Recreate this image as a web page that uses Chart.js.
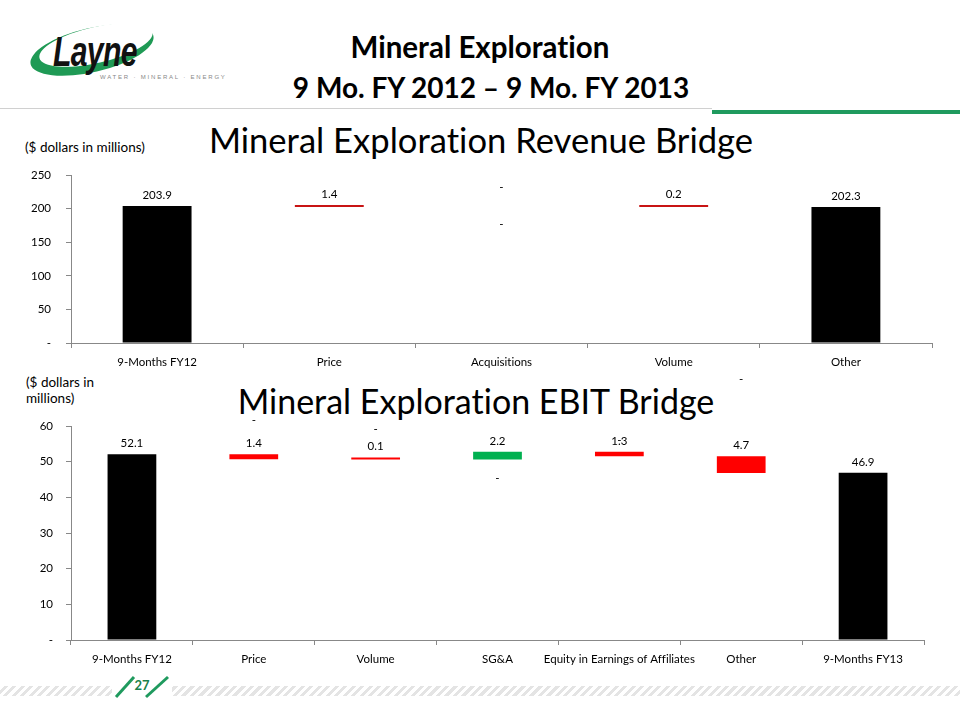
<!DOCTYPE html>
<html>
<head>
<meta charset="utf-8">
<script src="https://cdn.jsdelivr.net/npm/chart.js@4.4.1/dist/chart.umd.min.js"></script>
<style>
body{margin:0;width:960px;height:720px;position:relative;background:#fff;overflow:hidden;font-family:Lato,'Open Sans',sans-serif;font-variant-ligatures:none}
.abs{position:absolute}
.head{font-weight:bold;font-size:28px;color:#000;white-space:nowrap}
.ctitle{font-size:34px;color:#000;white-space:nowrap}
.unit{font-size:13.5px;color:#000;line-height:16px}
</style>
</head>
<body>
<svg class="abs" style="left:0;top:0" width="240" height="100">
  <g transform="rotate(-13 92 50)">
    <ellipse cx="92" cy="50" rx="63" ry="22" fill="#1f9a55"/>
    <ellipse cx="97" cy="46" rx="58" ry="18" fill="#fff"/>
  </g>
  <g transform="translate(53 66) scale(0.72 1)">
    <text x="0" y="0" font-family="Liberation Sans" font-weight="bold" font-style="italic" font-size="42" fill="#111" letter-spacing="-1">Layne</text>
  </g>
  <text x="100" y="79" font-family="Liberation Sans" font-size="6" fill="#888" letter-spacing="1.8">WATER · MINERAL · ENERGY</text>
</svg>
<div class="abs head" style="left:0;width:960px;text-align:center;top:29px;font-size:29.5px">Mineral Exploration</div>
<div class="abs head" style="left:0;width:982px;text-align:center;top:70px">9 Mo. FY 2012 – 9 Mo. FY 2013</div>
<div class="abs" style="left:0;top:108px;width:712px;height:1px;background:#d0d0d0"></div>
<div class="abs" style="left:712px;top:110px;width:248px;height:4px;background:#1f9a5e"></div>

<div class="abs unit" style="left:25px;top:139px">($ dollars in millions)</div>
<div class="abs ctitle" style="left:0;width:962px;text-align:center;top:119px;font-size:34.6px">Mineral Exploration Revenue Bridge</div>
<div class="abs unit" style="left:26px;top:374px">($ dollars in<br>millions)</div>
<div class="abs ctitle" style="left:0;width:952px;text-align:center;top:380px">Mineral Exploration EBIT Bridge</div>

<canvas id="rev" class="abs" style="left:0;top:165px" width="945" height="207"></canvas>
<canvas id="ebit" class="abs" style="left:0;top:370px" width="937" height="299"></canvas>

<div class="abs" style="left:0;top:686px;width:960px;height:10px;background:repeating-linear-gradient(135deg,#fff 0 3px,#e4e4e4 3px 6px)"></div>
<svg class="abs" style="left:0;top:670px" width="200" height="40">
  <rect x="112" y="4" width="60" height="24" fill="#fff"/>
  <line x1="116" y1="27" x2="134" y2="7" stroke="#1f9a5e" stroke-width="3"/>
  <line x1="146" y1="27" x2="168" y2="7" stroke="#1f9a5e" stroke-width="3"/>
  <text x="142" y="20" text-anchor="middle" font-family="Lato" font-weight="bold" font-size="13" fill="#1a7f4a">27</text>
</svg>

<script>
// revenue bridge
const revLabels = ['9-Months FY12', 'Price', 'Acquisitions', 'Volume', 'Other'];
const revValues = [203.9, -1.4, 0, -0.2, 202.3];
const revIsTotal = [true, false, false, false, true];
const revTicks = [0, 50, 100, 150, 200, 250];
const revDashes = [[2, 232], [2, 177]];   // stray zero labels

// EBIT bridge
const ebitLabels = ['9-Months FY12', 'Price', 'Volume', 'SG&A', 'Equity in Earnings of Affiliates', 'Other', '9-Months FY13'];
const ebitValues = [52.1, -1.4, -0.1, 2.2, -1.3, -4.7, 46.9];
const ebitIsTotal = [true, false, false, false, false, false, true];
const ebitTicks = [0, 10, 20, 30, 40, 50, 60];
const ebitDashes = [[1, 61.6], [2, 59.1], [3, 45.4], [4, 56], [5, 73.1]];

const FONT = 'Lato, "Open Sans", sans-serif';

function bridge(values, isTotal){
  let run = 0;
  return values.map((v, i) => {
    if (isTotal[i]) { run = v; return [0, v]; }
    if (v === 0) return null;
    const r = [run, run + v];
    run += v;
    return r;
  });
}

const bridgeLabels = {
  id: 'bridgeLabels',
  afterDatasetsDraw(chart, args, opts){
    const {ctx, scales:{x, y}} = chart;
    const meta = chart.getDatasetMeta(0);
    ctx.save();
    ctx.font = '11.5px ' + FONT;
    ctx.fillStyle = '#000';
    ctx.textAlign = 'center';
    ctx.textBaseline = 'bottom';
    opts.values.forEach((v, i) => {
      if (v === 0) return;
      const bar = meta.data[i];
      const top = Math.min(bar.y, bar.base);
      ctx.fillText(Math.abs(v).toFixed(1), bar.x, top - 5);
    });
    ctx.textBaseline = 'middle';
    opts.dashes.forEach(([i, v]) => ctx.fillText('-', x.getPixelForValue(i), y.getPixelForValue(v)));
    ctx.restore();
  }
};

function makeChart(id, labels, values, isTotal, ticks, dashes, padTop, padRight, yPad, negColor){
  const colors = values.map((v, i) => isTotal[i] ? '#000' : (v < 0 ? negColor : '#00b050'));
  return new Chart(document.getElementById(id), {
    type: 'bar',
    data: {labels, datasets: [{
      data: bridge(values, isTotal),
      backgroundColor: colors,
      borderWidth: 0,
      minBarLength: 2,
      categoryPercentage: 1,
      barPercentage: 0.4
    }]},
    options: {
      responsive: false,
      animation: false,
      layout: {padding: {top: padTop, right: padRight, left: 0, bottom: 0}},
      plugins: {legend: {display: false}, tooltip: {enabled: false},
        bridgeLabels: {values, dashes}},
      scales: {
        x: {
          grid: {drawOnChartArea: false, color: '#888', tickLength: 5, offset: true},
          border: {color: '#888'},
          ticks: {color: '#000', font: {family: FONT, size: 11.5}, padding: 7, maxRotation: 0, autoSkip: false},
          afterFit: s => { s.height = 29; }
        },
        y: {
          min: ticks[0], max: ticks[ticks.length - 1],
          afterBuildTicks: s => { s.ticks = ticks.map(v => ({value: v})); },
          grid: {drawOnChartArea: false, color: '#888', tickLength: 5},
          border: {color: '#888'},
          ticks: {color: '#000', font: {family: FONT, size: 11.5}, padding: yPad,
            callback: v => v === 0 ? '-' : v},
          afterFit: s => { s.width = 71; s.paddingTop = 6; s.paddingBottom = 6; }
        }
      }
    },
    plugins: [bridgeLabels]
  });
}

makeChart('rev', revLabels, revValues, revIsTotal, revTicks, revDashes, 10, 13, 15, '#c81414');
makeChart('ebit', ebitLabels, ebitValues, ebitIsTotal, ebitTicks, ebitDashes, 56, 13, 13, '#ff0000');
</script>
</body>
</html>
